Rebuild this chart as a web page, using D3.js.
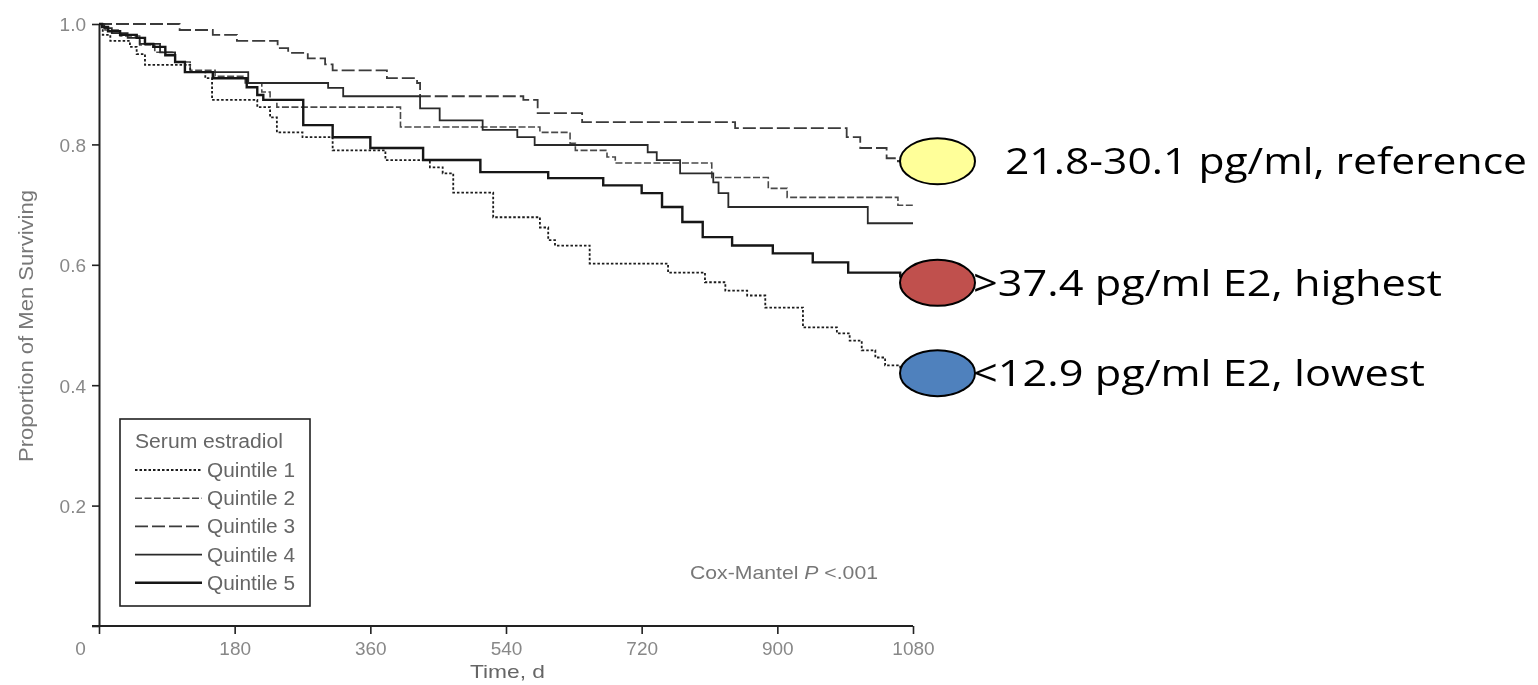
<!DOCTYPE html>
<html>
<head>
<meta charset="utf-8">
<script src="https://cdn.jsdelivr.net/npm/d3@7"></script>
<style>
  html, body { margin: 0; padding: 0; background: #ffffff; }
  svg { display: block; }
</style>
</head>
<body>
<script>
// Kaplan-Meier survival by serum estradiol quintile: [day, proportion surviving from that day on]
const quintile1 = [[0,1],[5,.982],[15,.972],[41,.962],[50,.950],[61,.932],[121,.920],[141,.910],[150,.874],[210,.862],[227,.845],[236,.820],[270,.812],[310,.790],[380,.774],[439,.762],[456,.752],[470,.720],[523,.679],[585,.662],[596,.641],[605,.632],[651,.602],[755,.587],[804,.571],[831,.557],[860,.549],[884,.529],[934,.496],[979,.486],[996,.474],[1012,.458],[1030,.446],[1043,.433],[1063,.428]];
const quintile2 = [[0,1],[8,.990],[28,.980],[54,.965],[74,.953],[101,.937],[121,.923],[154,.913],[194,.902],[216,.887],[227,.874],[236,.862],[400,.829],[585,.820],[625,.802],[632,.790],[674,.779],[685,.769],[813,.745],[888,.727],[913,.712],[1060,.699]];
const quintile3 = [[0,1],[107,.990],[151,.982],[183,.972],[237,.960],[251,.952],[277,.943],[300,.933],[310,.923],[382,.910],[422,.902],[426,.880],[563,.874],[582,.852],[641,.837],[844,.827],[992,.812],[1010,.794],[1045,.777],[1060,.772]];
const quintile4 = [[0,1],[7,.993],[17,.985],[38,.977],[54,.967],[81,.953],[101,.937],[114,.920],[198,.902],[304,.894],[324,.880],[426,.860],[452,.840],[509,.824],[555,.812],[578,.799],[728,.787],[740,.774],[771,.752],[815,.737],[822,.719],[835,.696],[1020,.669]];
const quintile5 = [[0,1],[4,.995],[12,.988],[28,.982],[50,.977],[61,.967],[72,.962],[88,.948],[101,.937],[114,.920],[151,.910],[196,.895],[210,.882],[218,.874],[271,.832],[310,.812],[360,.794],[430,.774],[506,.754],[596,.744],[669,.732],[720,.719],[747,.696],[774,.671],[801,.646],[840,.632],[894,.619],[947,.604],[994,.587],[1063,.581]];

const seriesNames = ["Quintile 1", "Quintile 2", "Quintile 3", "Quintile 4", "Quintile 5"];
const followUpEnd = 1080;
const xTickValues = [0, 180, 360, 540, 720, 900, 1080];
const yTickValues = [0, 0.2, 0.4, 0.6, 0.8, 1.0];

// Callouts for the reference, highest and lowest quintiles
const calloutLabels = ["21.8-30.1 pg/ml, reference", ">37.4 pg/ml E2, highest", "<12.9 pg/ml E2, lowest"];
const calloutValues = [0.772, 0.570, 0.420];

// Drawing styles
const lineStyles = [
  { stroke: "#1a1a1a", width: 1.8, dash: "2.5,2" },
  { stroke: "#4a4a4a", width: 1.6, dash: "7,2.5" },
  { stroke: "#3a3a3a", width: 1.8, dash: "13,4" },
  { stroke: "#2a2a2a", width: 1.8, dash: null },
  { stroke: "#141414", width: 2.4, dash: null }
];
const calloutFills = ["#FFFF99", "#C0504D", "#4F81BD"];
const calloutTextX = [1005, 973, 973];
const calloutTextLen = [522, 469, 452];

const W = 1538, H = 685;
const svg = d3.select("body").append("svg").attr("width", W).attr("height", H);

const defs = svg.append("defs");
defs.append("filter").attr("id", "soft")
  .append("feGaussianBlur").attr("stdDeviation", 0.45);

const x = d3.scaleLinear().domain([0, followUpEnd]).range([99, 913]);
const y = d3.scaleLinear().domain([0, 1]).range([626, 24]);

const chart = svg.append("g").attr("filter", "url(#soft)");
const chartFont = "'Liberation Sans', Arial, sans-serif";

// Y axis
const yAxis = chart.append("g")
  .attr("transform", `translate(${x(0)},0)`)
  .call(d3.axisLeft(y).tickValues(yTickValues).tickSize(7).tickSizeOuter(0)
    .tickFormat(d => d === 0 ? "" : d.toFixed(1)));
yAxis.select(".domain").attr("stroke", "#222").attr("stroke-width", 2);
yAxis.selectAll(".tick line").attr("stroke", "#222").attr("stroke-width", 1.6);
yAxis.selectAll(".tick text")
  .attr("x", -13).attr("dy", "0.36em")
  .attr("fill", "#888").style("font-family", chartFont).style("font-size", "19px");

// X axis
const xAxis = chart.append("g")
  .attr("transform", `translate(0,${y(0)})`)
  .call(d3.axisBottom(x).tickValues(xTickValues).tickSize(8).tickSizeOuter(0)
    .tickFormat(d3.format("d")));
xAxis.select(".domain").attr("stroke", "#222").attr("stroke-width", 2)
  .attr("d", `M${x(0) - 7},0H${x(followUpEnd)}`);
xAxis.selectAll(".tick line").attr("stroke", "#222").attr("stroke-width", 1.6);
xAxis.selectAll(".tick text")
  .attr("y", 16)
  .attr("dx", d => d === 0 ? -19 : 0)
  .attr("fill", "#888").style("font-family", chartFont).style("font-size", "19px");

// Axis titles
chart.append("text")
  .attr("transform", `translate(33,${(190 + 462) / 2}) rotate(-90)`)
  .attr("text-anchor", "middle")
  .attr("textLength", 272).attr("lengthAdjust", "spacingAndGlyphs")
  .attr("fill", "#777").style("font-family", chartFont).style("font-size", "20px")
  .text("Proportion of Men Surviving");

chart.append("text")
  .attr("x", 470).attr("y", 678)
  .attr("textLength", 75).attr("lengthAdjust", "spacingAndGlyphs")
  .attr("fill", "#666").style("font-family", chartFont).style("font-size", "19px")
  .text("Time, d");

// Survival step curves
const stepLine = d3.line()
  .x(d => x(d[0]))
  .y(d => y(d[1]))
  .curve(d3.curveStepAfter);

const series = [quintile1, quintile2, quintile3, quintile4, quintile5];
const drawOrder = [1, 2, 3, 0, 4];
drawOrder.forEach(i => {
  const steps = series[i];
  const pts = steps.concat([[followUpEnd, steps[steps.length - 1][1]]]);
  const st = lineStyles[i];
  chart.append("path")
    .datum(pts)
    .attr("d", stepLine)
    .attr("fill", "none")
    .attr("stroke", st.stroke)
    .attr("stroke-width", st.width)
    .attr("stroke-dasharray", st.dash)
    .attr("stroke-linejoin", "miter");
});

// Legend
const legend = chart.append("g");
legend.append("rect")
  .attr("x", 120).attr("y", 419).attr("width", 190).attr("height", 187)
  .attr("fill", "#fff").attr("stroke", "#222").attr("stroke-width", 1.6);
legend.append("text")
  .attr("x", 135).attr("y", 448)
  .attr("textLength", 148).attr("lengthAdjust", "spacingAndGlyphs")
  .attr("fill", "#666").style("font-family", chartFont).style("font-size", "20px")
  .text("Serum estradiol");
seriesNames.forEach((name, i) => {
  const rowY = 470 + i * 28.2;
  const st = lineStyles[i];
  legend.append("line")
    .attr("x1", 135).attr("x2", 202).attr("y1", rowY).attr("y2", rowY)
    .attr("stroke", st.stroke).attr("stroke-width", st.width)
    .attr("stroke-dasharray", st.dash);
  legend.append("text")
    .attr("x", 207).attr("y", rowY + 7)
    .attr("textLength", 88).attr("lengthAdjust", "spacingAndGlyphs")
    .attr("fill", "#666").style("font-family", chartFont).style("font-size", "20px")
    .text(name);
});

// Test statistic note
const note = chart.append("text")
  .attr("x", 690).attr("y", 579)
  .attr("textLength", 188).attr("lengthAdjust", "spacingAndGlyphs")
  .attr("fill", "#777").style("font-family", chartFont).style("font-size", "19px");
note.append("tspan").text("Cox-Mantel ");
note.append("tspan").style("font-style", "italic").text("P");
note.append("tspan").text(" <.001");

// Callout ellipses and labels
const callouts = svg.append("g");
calloutLabels.forEach((label, i) => {
  const cy = y(calloutValues[i]);
  callouts.append("ellipse")
    .attr("cx", x(followUpEnd) + 24.5).attr("cy", cy)
    .attr("rx", 37.5).attr("ry", 23)
    .attr("fill", calloutFills[i])
    .attr("stroke", "#000").attr("stroke-width", 2);
  callouts.append("text")
    .attr("x", calloutTextX[i]).attr("y", cy + 13)
    .attr("textLength", calloutTextLen[i]).attr("lengthAdjust", "spacingAndGlyphs")
    .attr("fill", "#000")
    .style("font-family", "'Open Sans', 'Noto Sans', sans-serif")
    .style("font-size", "36px")
    .text(label);
});
</script>
</body>
</html>
